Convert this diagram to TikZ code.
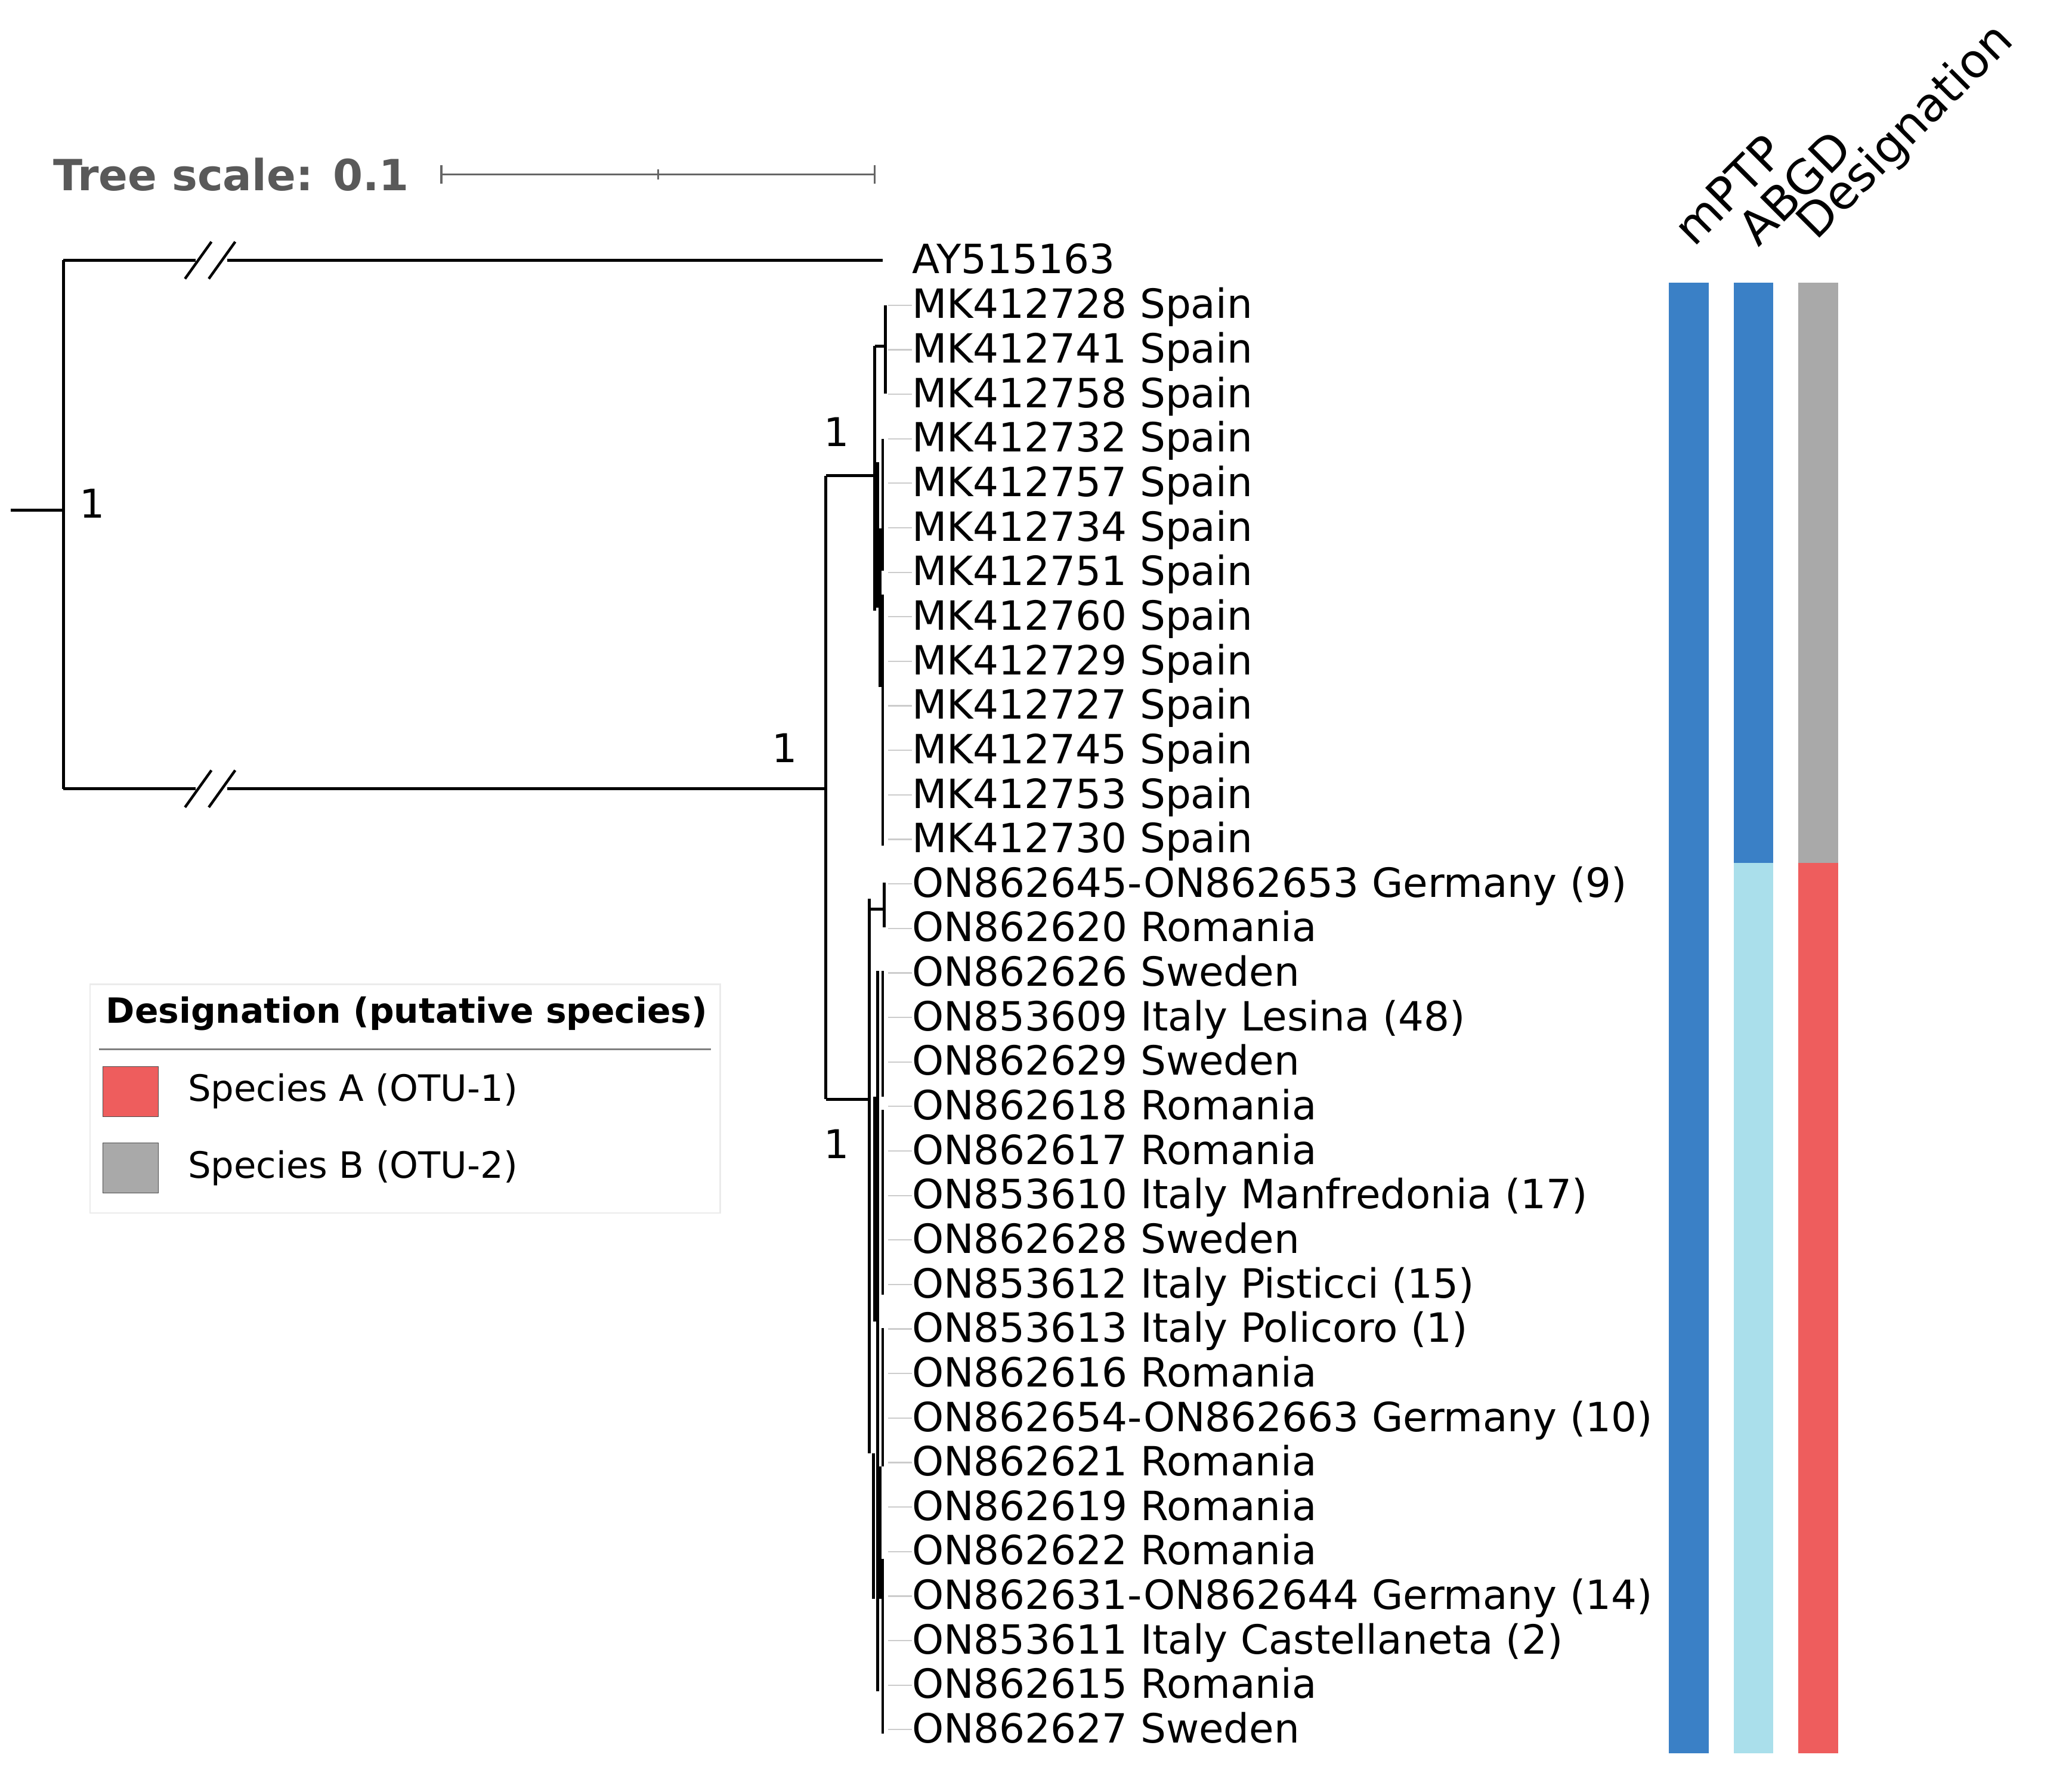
\documentclass[tikz,border=0pt]{standalone}
\usepackage{fontspec}
\setmainfont{DejaVu Sans}
\begin{document}
\begin{tikzpicture}[x=1pt,y=-1pt,
  br/.style={line width=2.2pt,black},
  leaf/.style={anchor=west,inner sep=0,text height=22pt,text depth=6pt,font=\fontsize{30.5}{32}\selectfont},
  tick/.style={gray!40,line width=1pt},
  sup/.style={font=\fontsize{30}{32}\selectfont,inner sep=0},
  hdr/.style={anchor=south west,rotate=45,inner sep=0,font=\fontsize{35.5}{37}\selectfont}]
\useasboundingbox (0,0) rectangle (1568,1337);
% scale bar
\node[anchor=west,inner sep=0,text=black!65,font=\bfseries\fontsize{32.5}{34}\selectfont] (ts) at (40,132) {Tree scale: 0.1};
\coordinate (sa) at (334,132); \coordinate (sb) at (662,132);
\draw[black!60,line width=1.5pt] (sa) -- (sb);
\draw[black!60,line width=1.5pt] (334,125) -- (334,139) (662,125) -- (662,139) (498,128) -- (498,136);
% leaves
\def\rowy#1{233+33.69*(#1)}
\node[leaf] (L0) at (690,199) {AY515163};
\foreach \i/\t in {0/MK412728 Spain,1/MK412741 Spain,2/MK412758 Spain,3/MK412732 Spain,4/MK412757 Spain,5/MK412734 Spain,6/MK412751 Spain,7/MK412760 Spain,8/MK412729 Spain,9/MK412727 Spain,10/MK412745 Spain,11/MK412753 Spain,12/MK412730 Spain,
13/ON862645-ON862653 Germany (9),14/ON862620 Romania,15/ON862626 Sweden,16/ON853609 Italy Lesina (48),17/ON862629 Sweden,18/ON862618 Romania,19/ON862617 Romania,20/ON853610 Italy Manfredonia (17),21/ON862628 Sweden,22/ON853612 Italy Pisticci (15),23/ON853613 Italy Policoro (1),24/ON862616 Romania,25/ON862654-ON862663 Germany (10),26/ON862621 Romania,27/ON862619 Romania,28/ON862622 Romania,29/ON862631-ON862644 Germany (14),30/ON853611 Italy Castellaneta (2),31/ON862615 Romania,32/ON862627 Sweden}{
  \node[leaf] (M\i) at (690,{\rowy{\i}}) {\t};
  \draw[tick] (672,{\rowy{\i}-2}) -- ([yshift=2pt]M\i.west);
}
% tree
\coordinate (root) at (8,386);
\coordinate (n0) at (48,386);
\draw[br] (root) -- (n0);
\draw[br] (48,197) -- (48,597);
\draw[br] (48,197) -- (668,197);
\draw[br] (48,597) -- (625,597);
\foreach \yy in {197,597}{
  \fill[white] (148,\yy-7) rectangle (172,\yy+7);
  \draw[line width=2pt] (140,\yy+14) -- (160,\yy-14) (158,\yy+14) -- (178,\yy-14);
}
\draw[br] (625,360) -- (625,832);
\draw[br] (625,360) -- (662,360);
\draw[br] (625,832) -- (658,832);
% upper clade
\draw[br] (662,262) -- (662,462);
\draw[br] (662,262) -- (670,262);
\draw[br] (670,231) -- (670,298);
\draw[br] (668,332) -- (668,432) (666,400) -- (666,520) (668,450) -- (668,640) (664,350) -- (664,460);
% lower clade
\draw[br] (658,680) -- (658,1100);
\draw[br] (658,688) -- (669,688);
\draw[br] (669,668) -- (669,702);
\draw[br] (664,735) -- (664,1280) (668,735) -- (668,830) (668,840) -- (668,980) (662,830) -- (662,1000)
  (668,1005) -- (668,1110) (666,1110) -- (666,1210) (668,1180) -- (668,1312) (661,1100) -- (661,1210);
\node[sup] (b1) at (70,381) {1};
\node[sup] (b2) at (594,566) {1};
\node[sup] (b3) at (633,327) {1};
\node[sup] (b4) at (633,866) {1};
% columns
\definecolor{cblue}{HTML}{3A80C6}\definecolor{clblue}{HTML}{AADFEB}
\definecolor{cgray}{HTML}{A9A9A9}\definecolor{cred}{HTML}{EE5D5D}
\fill[cblue] (1263,214) rectangle (1293,1327);
\fill[cblue] (1312,214) rectangle (1342,653);
\fill[clblue] (1312,653) rectangle (1342,1327);
\fill[cgray] (1361,214) rectangle (1391,653);
\fill[cred] (1361,653) rectangle (1391,1327);
\node[hdr] (h1) at (1282,188) {mPTP};
\node[hdr] (h2) at (1331,188) {ABGD};
\node[hdr] (h3) at (1380,188) {Designation};
% legend
\draw[black!8,fill=white,line width=1pt] (68,745) rectangle (545,918);
\node[anchor=west,inner sep=0,font=\bfseries\fontsize{26.3}{28}\selectfont] (lt) at (80,767) {Designation (putative species)};
\draw[black!50,line width=1.5pt] (75,794) -- (538,794);
\draw[black!70,fill=cred] (78,807) rectangle (120,845);
\draw[black!70,fill=cgray] (78,865) rectangle (120,903);
\node[anchor=west,inner sep=0,font=\fontsize{27.5}{29}\selectfont] (la) at (142,826) {Species A (OTU-1)};
\node[anchor=west,inner sep=0,font=\fontsize{27.5}{29}\selectfont] (lb) at (142,884) {Species B (OTU-2)};
\end{tikzpicture}
\end{document}
